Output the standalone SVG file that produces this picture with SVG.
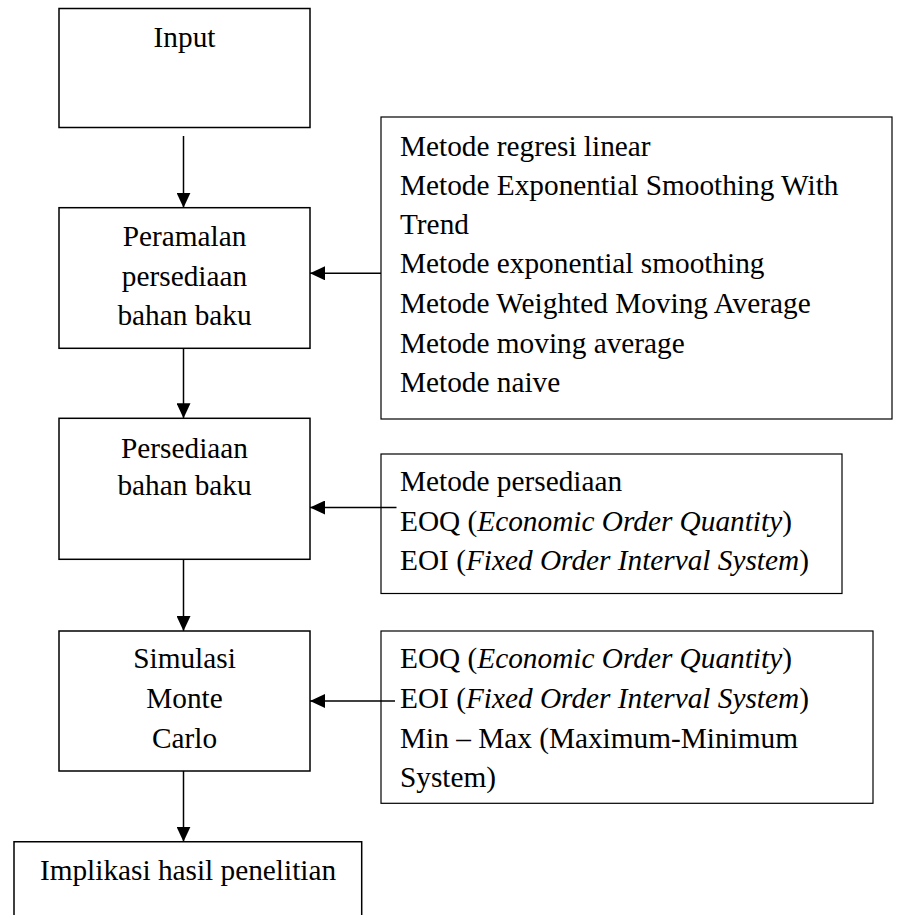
<svg xmlns="http://www.w3.org/2000/svg" width="906" height="915" viewBox="0 0 906 915">
<style>
.box{fill:#fff;stroke:#000;stroke-width:1.5}
.rbox{fill:#fff;stroke:#000;stroke-width:1.2}
.t{font-family:"Liberation Serif","Times New Roman",serif;font-size:29.3px;fill:#000}
.c{text-anchor:middle}
.i{font-style:italic}
.ln{stroke:#000;stroke-width:1.5;fill:none}
</style>
<defs>
<marker id="ah" markerUnits="userSpaceOnUse" markerWidth="16" markerHeight="14" refX="15" refY="7" orient="auto">
<path d="M0,0 L15,7 L0,14 z" fill="#000"/>
</marker>
</defs>
<rect width="906" height="915" fill="#fff"/>
<g id="input">
<rect class="box" x="59" y="8.5" width="251" height="119"/>
<text class="t c" x="184.5" y="46.5">Input</text>
</g>
<g id="peramalan">
<rect class="box" x="59" y="207.7" width="251" height="140.6"/>
<text class="t c" x="184.5" y="246">Peramalan</text>
<text class="t c" x="184.5" y="285.5">persediaan</text>
<text class="t c" x="184.5" y="325">bahan baku</text>
</g>
<g id="persediaan">
<rect class="box" x="59" y="418.3" width="251" height="141"/>
<text class="t c" x="184.5" y="457.5">Persediaan</text>
<text class="t c" x="184.5" y="495">bahan baku</text>
</g>
<g id="simulasi">
<rect class="box" x="59" y="631" width="251" height="140"/>
<text class="t c" x="184.5" y="668.3">Simulasi</text>
<text class="t c" x="184.5" y="708.3">Monte</text>
<text class="t c" x="184.5" y="748.3">Carlo</text>
</g>
<g id="implikasi">
<path class="box" d="M14,925 L14,841.7 L361.7,841.7 L361.7,925"/>
<text class="t c" x="188" y="880">Implikasi hasil penelitian</text>
</g>
<g id="metode-peramalan">
<rect class="rbox" x="381" y="117" width="511" height="302"/>
<text class="t" x="400" y="155.5">Metode regresi linear</text>
<text class="t" x="400" y="195">Metode Exponential Smoothing With</text>
<text class="t" x="400" y="234">Trend</text>
<text class="t" x="400" y="273">Metode exponential smoothing</text>
<text class="t" x="400" y="312.7">Metode Weighted Moving Average</text>
<text class="t" x="400" y="352.5">Metode moving average</text>
<text class="t" x="400" y="392.3">Metode naive</text>
</g>
<g id="metode-persediaan">
<rect class="rbox" x="381" y="454" width="461" height="139.5"/>
<text class="t" x="400" y="491">Metode persediaan</text>
<text class="t" x="400" y="530.7">EOQ (<tspan class="i">Economic Order Quantity</tspan>)</text>
<text class="t" x="400" y="570">EOI (<tspan class="i">Fixed Order Interval System</tspan>)</text>
</g>
<g id="metode-simulasi">
<rect class="rbox" x="381" y="631" width="492" height="172.3"/>
<text class="t" x="400" y="668.3">EOQ (<tspan class="i">Economic Order Quantity</tspan>)</text>
<text class="t" x="400" y="708.3">EOI (<tspan class="i">Fixed Order Interval System</tspan>)</text>
<text class="t" x="400" y="748.3">Min – Max (Maximum-Minimum</text>
<text class="t" x="400" y="787.3">System)</text>
</g>
<g id="connectors">
<line class="ln" x1="183.5" y1="136" x2="183.5" y2="207.7" marker-end="url(#ah)"/>
<line class="ln" x1="183.5" y1="348.3" x2="183.5" y2="418.3" marker-end="url(#ah)"/>
<line class="ln" x1="183.5" y1="559.3" x2="183.5" y2="631" marker-end="url(#ah)"/>
<line class="ln" x1="183.5" y1="771" x2="183.5" y2="841.7" marker-end="url(#ah)"/>
<line class="ln" x1="381" y1="273.3" x2="310" y2="273.3" marker-end="url(#ah)"/>
<line class="ln" x1="396.5" y1="507.5" x2="310" y2="507.5" marker-end="url(#ah)"/>
<line class="ln" x1="395" y1="701" x2="310" y2="701" marker-end="url(#ah)"/>
</g>
</svg>
